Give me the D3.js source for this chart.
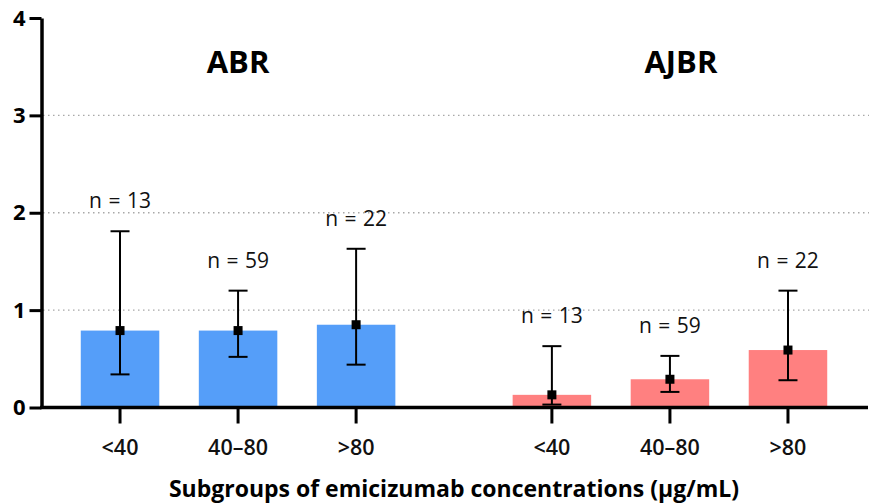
<!DOCTYPE html>
<html>
<head>
<meta charset="utf-8">
<script src="https://cdn.jsdelivr.net/npm/d3@7"></script>
<style>
  body { margin: 0; background: #fff; }
  svg { display: block; font-family: "Open Sans", sans-serif; }
</style>
</head>
<body>
<div id="chart"></div>
<script>
const groups = ["ABR", "AJBR"];
const subgroups = ["<40", "40–80", ">80"];
const means = {
  ABR: [0.79, 0.79, 0.85],
  AJBR: [0.13, 0.29, 0.59],
};
const upper = {
  ABR: [1.81, 1.2, 1.63],
  AJBR: [0.63, 0.53, 1.2],
};
const lower = {
  ABR: [0.34, 0.52, 0.44],
  AJBR: [0.03, 0.16, 0.28],
};
const counts = {
  ABR: [13, 59, 22],
  AJBR: [13, 59, 22],
};
const colors = { ABR: "#559ef9", AJBR: "#ff8080" };
const yTicks = [0, 1, 2, 3, 4];

const width = 869, height = 504;

const svg = d3
  .select("#chart")
  .append("svg")
  .attr("width", width)
  .attr("height", height);

const y = d3.scaleLinear().domain([0, 4]).range([407.5, 18]);
const x0 = d3.scaleBand().domain(groups).range([61, 847]).paddingInner(0.18);
const x1 = d3
  .scaleBand()
  .domain(subgroups)
  .range([0, x0.bandwidth()])
  .paddingInner(0.335)
  .paddingOuter(0.1675);

// gridlines
svg
  .selectAll("line.grid")
  .data(yTicks.filter((d) => d > 0 && d < 4))
  .enter()
  .append("line")
  .attr("class", "grid")
  .attr("x1", 43)
  .attr("x2", width)
  .attr("y1", (d) => y(d))
  .attr("y2", (d) => y(d))
  .attr("stroke", "#a8a8a8")
  .attr("stroke-width", 1.3)
  .attr("stroke-dasharray", "1.5,3.5");

// rows of data
const rows = [];
groups.forEach((g) => {
  subgroups.forEach((s, i) => {
    rows.push({
      group: g,
      sub: s,
      mean: means[g][i],
      hi: upper[g][i],
      lo: lower[g][i],
      n: counts[g][i],
    });
  });
});
const cx = (d) => x0(d.group) + x1(d.sub) + x1.bandwidth() / 2;

svg
  .selectAll("rect.bar")
  .data(rows)
  .enter()
  .append("rect")
  .attr("class", "bar")
  .attr("x", (d) => x0(d.group) + x1(d.sub))
  .attr("width", x1.bandwidth())
  .attr("y", (d) => y(d.mean))
  .attr("height", (d) => y(0) - y(d.mean))
  .attr("fill", (d) => colors[d.group]);

const err = svg.selectAll("g.err").data(rows).enter().append("g").attr("class", "err");
err
  .append("line")
  .attr("x1", cx)
  .attr("x2", cx)
  .attr("y1", (d) => y(d.hi))
  .attr("y2", (d) => y(d.lo))
  .attr("stroke", "#000")
  .attr("stroke-width", 2);
["hi", "lo"].forEach((k) => {
  err
    .append("line")
    .attr("x1", (d) => cx(d) - 9.5)
    .attr("x2", (d) => cx(d) + 9.5)
    .attr("y1", (d) => y(d[k]))
    .attr("y2", (d) => y(d[k]))
    .attr("stroke", "#000")
    .attr("stroke-width", 2);
});
err
  .append("rect")
  .attr("x", (d) => cx(d) - 4.5)
  .attr("y", (d) => y(d.mean) - 4.5)
  .attr("width", 9)
  .attr("height", 9)
  .attr("fill", "#000");

err
  .append("text")
  .attr("x", cx)
  .attr("y", (d) => y(d.hi) - 23)
  .attr("text-anchor", "middle")
  .attr("font-size", 21)
  .attr("word-spacing", 1)
  .attr("fill", "#111")
  .text((d) => "n = " + d.n);

// y axis
const yAxis = svg
  .append("g")
  .attr("transform", "translate(41.5,0)")
  .call(
    d3
      .axisLeft(y)
      .tickValues(yTicks)
      .tickFormat(d3.format("d"))
      .tickSize(12)
      .tickSizeOuter(0)
      .tickPadding(4)
  );
yAxis.select(".domain").attr("stroke-width", 3.5);
yAxis.selectAll(".tick line").attr("stroke-width", 3);
yAxis
  .selectAll(".tick text")
  .attr("font-size", 22)
  .attr("font-weight", "bold")
  .attr("font-family", "'Open Sans', sans-serif")
  .attr("fill", "#000");

// x axis
const xAxisG = svg.append("g").attr("transform", "translate(0," + y(0) + ")");
xAxisG
  .append("line")
  .attr("x1", 40)
  .attr("x2", width - 1)
  .attr("stroke", "#000")
  .attr("stroke-width", 3.5);
xAxisG
  .selectAll("line.tick")
  .data(rows)
  .enter()
  .append("line")
  .attr("class", "tick")
  .attr("x1", cx)
  .attr("x2", cx)
  .attr("y1", 0)
  .attr("y2", 16)
  .attr("stroke", "#000")
  .attr("stroke-width", 3);
xAxisG
  .selectAll("text.tick")
  .data(rows)
  .enter()
  .append("text")
  .attr("class", "tick")
  .attr("x", cx)
  .attr("y", 47)
  .attr("text-anchor", "middle")
  .attr("font-size", 21.5)
  .attr("font-weight", 600)
  .attr("fill", "#111")
  .text((d) => d.sub);

// group titles
svg
  .selectAll("text.gtitle")
  .data(groups)
  .enter()
  .append("text")
  .attr("class", "gtitle")
  .attr("x", (d, i) => x0(d) + x0.bandwidth() / 2 + (i === 1 ? 11 : 0))
  .attr("y", 72.5)
  .attr("text-anchor", "middle")
  .attr("font-size", 31)
  .attr("font-weight", "bold")
  .attr("fill", "#000")
  .text((d) => d);

svg
  .append("text")
  .attr("x", 454)
  .attr("y", 497)
  .attr("text-anchor", "middle")
  .attr("font-size", 23)
  .attr("font-weight", "bold")
  .attr("fill", "#000")
  .text("Subgroups of emicizumab concentrations (µg/mL)");
</script>
</body>
</html>
